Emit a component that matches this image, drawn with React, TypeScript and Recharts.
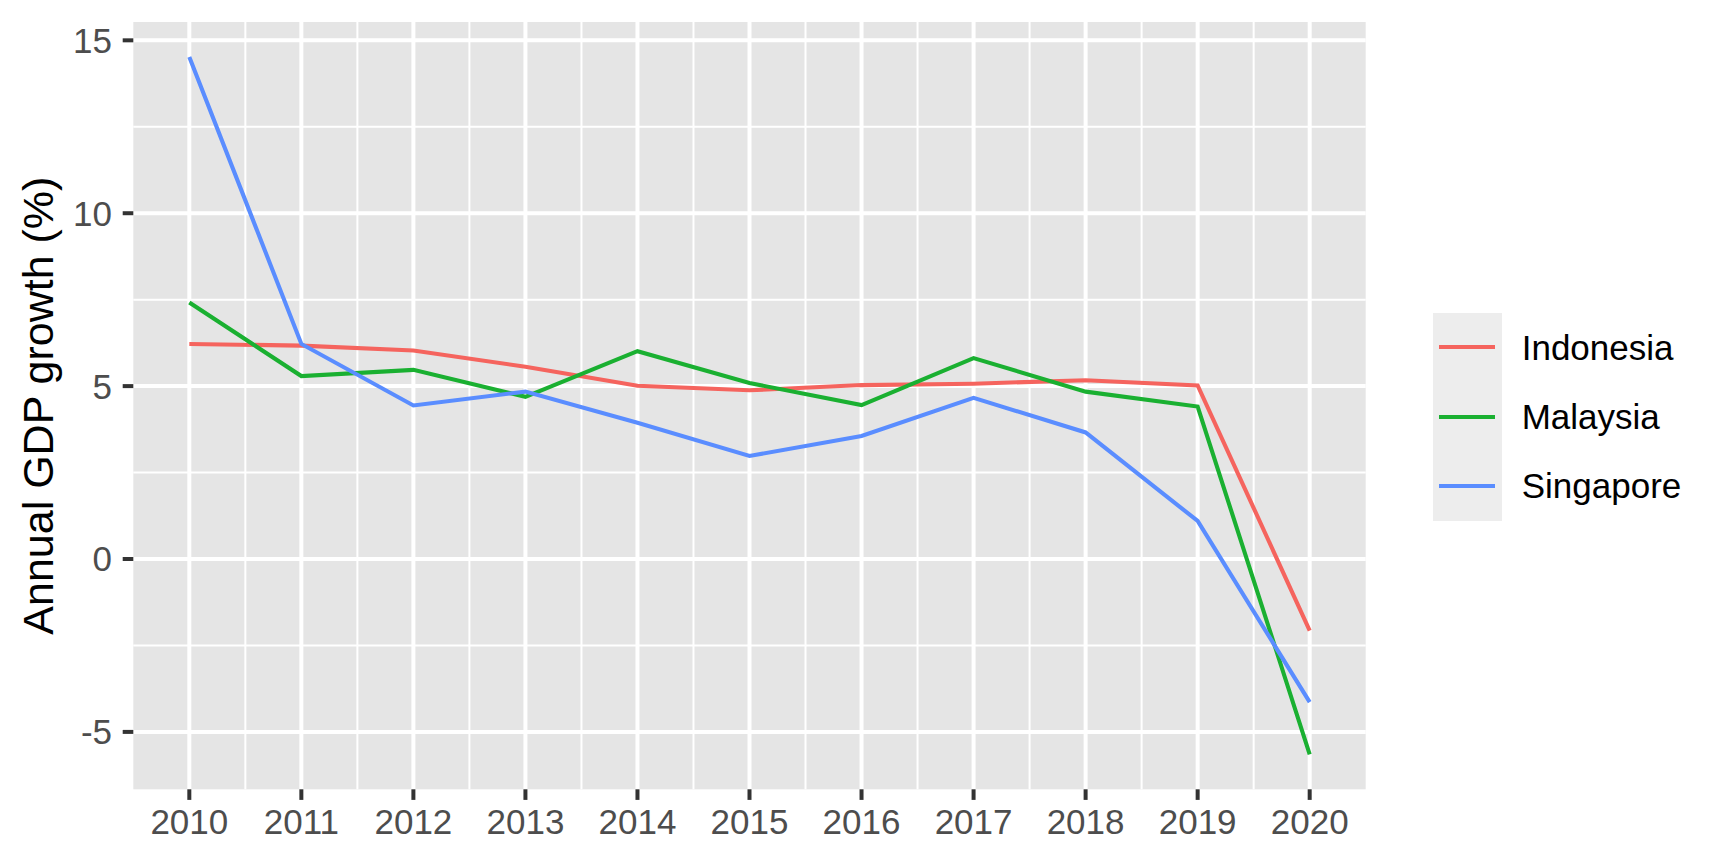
import React from 'react';
import { LineChart, Line, XAxis, YAxis, CartesianGrid, Legend, Label } from 'recharts';

const years = [2010, 2011, 2012, 2013, 2014, 2015, 2016, 2017, 2018, 2019, 2020];
const indonesia = [6.22, 6.17, 6.03, 5.56, 5.01, 4.88, 5.03, 5.07, 5.17, 5.02, -2.07];
const malaysia = [7.42, 5.29, 5.47, 4.69, 6.01, 5.09, 4.45, 5.81, 4.84, 4.41, -5.65];
const singapore = [14.52, 6.22, 4.44, 4.84, 3.94, 2.98, 3.56, 4.66, 3.66, 1.1, -4.14];
const yTicks = [-5, 0, 5, 10, 15];
const yMinor = [-2.5, 2.5, 7.5, 12.5];
const xMinor = [2010.5, 2011.5, 2012.5, 2013.5, 2014.5, 2015.5, 2016.5, 2017.5, 2018.5, 2019.5];
const seriesNames = ['Indonesia', 'Malaysia', 'Singapore'];
const seriesColors = ['#F5645E', '#1AB031', '#5A8DFF'];
const yTitle = 'Annual GDP growth (%)';

const data = years.map((y, i) => ({
  year: y,
  Indonesia: indonesia[i],
  Malaysia: malaysia[i],
  Singapore: singapore[i],
}));

const FONT = "'Liberation Sans', Arial, Helvetica, sans-serif";
const ROW = 69.3;

const renderLegend = () => (
  <div style={{ display: 'flex', fontFamily: FONT }}>
    <div style={{ background: '#EDEDED', width: 69 }}>
      {seriesNames.map((n, i) => (
        <div key={n} style={{ height: ROW, display: 'flex', alignItems: 'center', justifyContent: 'center' }}>
          <div style={{ width: 55.7, height: 4.1, background: seriesColors[i] }} />
        </div>
      ))}
    </div>
    <div>
      {seriesNames.map((n) => (
        <div key={n} style={{ height: ROW, lineHeight: `${ROW}px`, fontSize: 35, marginLeft: 20, color: '#000', whiteSpace: 'nowrap' }}>
          {n}
        </div>
      ))}
    </div>
  </div>
);

export default function App() {
  return (
    <LineChart
      width={1712}
      height={848}
      data={data}
      margin={{ top: 14, right: 354.3, left: 0, bottom: 6.7 }}
      style={{ fontFamily: FONT }}
    >
      <CartesianGrid
        fill="#E5E5E5"
        stroke="#FFFFFF"
        strokeWidth={2}
        horizontalValues={yMinor}
        verticalValues={xMinor}
      />
      <CartesianGrid
        stroke="#FFFFFF"
        strokeWidth={4}
        horizontalValues={yTicks}
        verticalValues={years}
      />
      <XAxis
        dataKey="year"
        type="number"
        domain={[2009.5, 2020.5]}
        ticks={years}
        allowDataOverflow
        axisLine={false}
        tickLine={{ stroke: '#333333', strokeWidth: 4 }}
        tickSize={10.6}
        tickMargin={9}
        height={60}
        tick={{ fill: '#4D4D4D', fontSize: 35, fontFamily: FONT }}
        interval={0}
      />
      <YAxis
        type="number"
        domain={[-6.66, 15.53]}
        ticks={yTicks}
        allowDataOverflow
        axisLine={false}
        tickLine={{ stroke: '#333333', strokeWidth: 4 }}
        tickSize={10.6}
        tickMargin={10.7}
        width={125.3}
        tick={{ fill: '#4D4D4D', fontSize: 35, fontFamily: FONT }}
        interval={0}
      >
        <Label
          content={(props: any) => {
            const vb = props.viewBox || { x: 0, y: 14, width: 125.3, height: 767.3 };
            const cx = 45;
            const cy = vb.y + vb.height / 2;
            return (
              <text
                x={cx}
                y={cy}
                transform={`rotate(-90 ${cx} ${cy})`}
                textAnchor="middle"
                fontSize={43}
                fill="#000000"
                fontFamily={FONT}
              >
                {yTitle}
              </text>
            );
          }}
        />
      </YAxis>
      <Legend
        layout="vertical"
        align="center"
        verticalAlign="middle"
        content={renderLegend}
        wrapperStyle={{ left: 1424.7, top: 304.7, width: 270, height: 208 }}
      />
      {seriesNames.map((n, i) => (
        <Line
          key={n}
          type="linear"
          dataKey={n}
          stroke={seriesColors[i]}
          strokeWidth={4.1}
          dot={false}
          activeDot={false}
          isAnimationActive={false}
        />
      ))}
    </LineChart>
  );
}
